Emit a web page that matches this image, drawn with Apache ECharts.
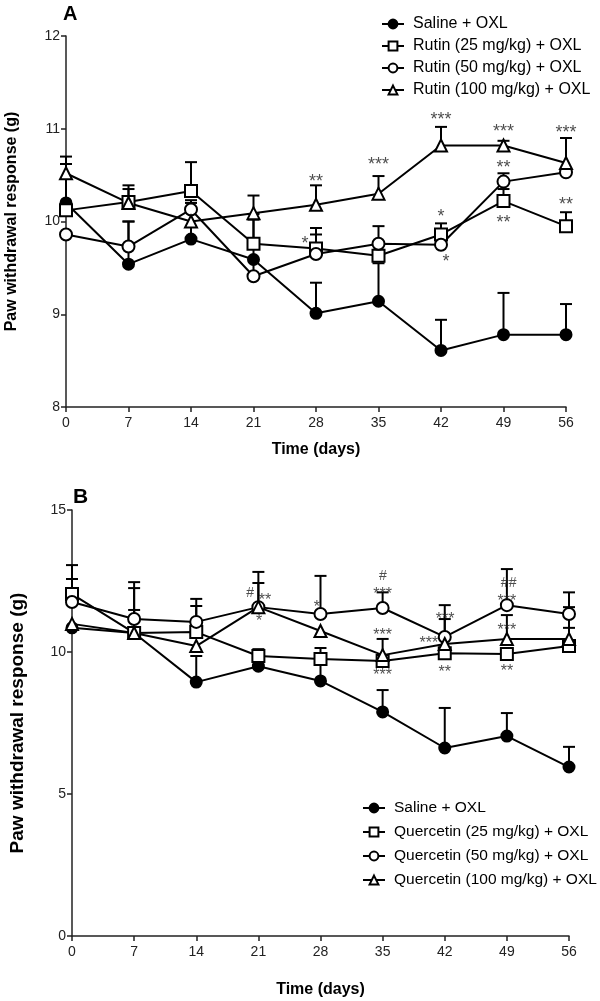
<!DOCTYPE html>
<html><head><meta charset="utf-8">
<script src="https://cdn.jsdelivr.net/npm/echarts@6/dist/echarts.min.js"></script>
<style>html,body{margin:0;padding:0;background:#fff}#c{width:600px;height:1001px}</style>
</head><body><div id="c"></div>
<script>
// ---------- Data ----------
var days = [0, 7, 14, 21, 28, 35, 42, 49, 56];
var xTicks = [0, 7, 14, 21, 28, 35, 42, 49, 56];

// Panel A (Rutin)
var namesA = ['Saline + OXL', 'Rutin (25 mg/kg) + OXL', 'Rutin (50 mg/kg) + OXL', 'Rutin (100 mg/kg) + OXL'];
var salineA   = [10.20, 9.54, 9.81, 9.59, 9.01, 9.14, 8.61, 8.78, 8.78];
var rutin25   = [10.12, 10.21, 10.33, 9.76, 9.71, 9.63, 9.86, 10.22, 9.95];
var rutin50   = [9.86, 9.73, 10.13, 9.41, 9.65, 9.76, 9.75, 10.43, 10.53];
var rutin100  = [10.52, 10.20, 10.00, 10.09, 10.18, 10.30, 10.82, 10.82, 10.63];
var salineAErr  = [10.62, 10.00, 9.95, 9.59, 9.34, 9.55, 8.94, 9.23, 9.11];
var rutin25Err  = [10.12, 10.39, 10.64, 10.02, 9.93, 9.63, 9.98, 10.35, 10.10];
var rutin50Err  = [9.86, 10.00, 10.23, 10.08, 9.86, 9.95, 9.75, 10.52, 10.53];
var rutin100Err = [10.70, 10.35, 10.20, 10.28, 10.39, 10.49, 11.02, 10.87, 10.90];
var annotA = [
  [28, 10.48, '**'], [35, 10.66, '***'], [42, 11.15, '***'], [49, 11.02, '***'], [56, 11.01, '***'],
  [58.35, 10.61, '***'], [49, 10.63, '**'], [56, 10.23, '**'], [42, 10.10, '*'], [49, 10.04, '**'],
  [42.56, 9.62, '*'], [26.77, 9.81, '*']
];

// Panel B (Quercetin)
var namesB = ['Saline + OXL', 'Quercetin (25 mg/kg) + OXL', 'Quercetin (50 mg/kg) + OXL', 'Quercetin (100 mg/kg) + OXL'];
var salineB  = [10.85, 10.67, 8.94, 9.50, 8.98, 7.89, 6.62, 7.04, 5.95];
var querc25  = [12.04, 10.67, 10.70, 9.86, 9.75, 9.68, 9.96, 9.93, 10.21];
var querc50  = [11.76, 11.16, 11.06, 11.58, 11.34, 11.55, 10.53, 11.65, 11.34];
var querc100 = [10.99, 10.67, 10.21, 11.58, 10.74, 9.89, 10.28, 10.46, 10.46];
var salineBErr  = [10.85, 10.67, 9.86, 9.50, 9.70, 8.66, 8.03, 7.85, 6.66];
var querc25Err  = [13.06, 12.25, 11.62, 10.10, 10.14, 9.68, 9.96, 9.93, 11.58];
var querc50Err  = [12.57, 12.46, 11.87, 12.82, 12.68, 12.10, 11.65, 12.92, 12.10];
var querc100Err = [10.99, 11.48, 10.21, 12.43, 10.74, 10.46, 11.16, 11.30, 10.85];
var annotB = [
  [20.06, 12.08, '#'], [21.75, 12.00, '**'], [21.07, 11.23, '*'], [27.6, 11.73, '*'],
  [35.04, 12.68, '#'], [35, 12.18, '***'], [35, 10.74, '***'], [35, 9.33, '***'],
  [42.03, 11.30, '***'], [40.2, 10.46, '***'], [42, 9.44, '**'],
  [49.2, 12.43, '##'], [49, 11.94, '***'], [49, 10.92, '***'], [49, 9.47, '**'],
  [56.3, 12.46, '***'], [57.47, 10.85, '***'], [56.3, 9.65, '***']
];

// ---------- Chart ----------
var FONT = '"Liberation Sans", Arial, sans-serif';
var chart = echarts.init(document.getElementById('c'), null, {renderer: 'canvas'});

function pairs(vals) { return days.map(function (d, i) { return [d, vals[i]]; }); }
function errData(vals, tops) { return days.map(function (d, i) { return [d, vals[i], tops[i]]; }); }

var symbols = ['circle', 'rect', 'circle', 'triangle'];
var fills = ['#000', '#fff', '#fff', '#fff'];

function lineSeries(name, vals, k, gi, size) {
  return {
    type: 'line', name: name, xAxisIndex: gi, yAxisIndex: gi,
    data: pairs(vals), symbol: symbols[k], symbolSize: size, showSymbol: true,
    lineStyle: {color: '#000', width: 2},
    itemStyle: {color: fills[k], borderColor: '#000', borderWidth: 2},
    z: 3, animation: false
  };
}
function errSeries(vals, tops, gi) {
  return {
    type: 'custom', xAxisIndex: gi, yAxisIndex: gi, silent: true, animation: false, z: 2,
    data: errData(vals, tops),
    renderItem: function (params, api) {
      if (api.value(2) <= api.value(1) + 0.001) return null;
      var p0 = api.coord([api.value(0), api.value(1)]);
      var p1 = api.coord([api.value(0), api.value(2)]);
      var st = {stroke: '#000', lineWidth: 2};
      return {type: 'group', children: [
        {type: 'line', shape: {x1: p0[0], y1: p0[1], x2: p1[0], y2: p1[1]}, style: st},
        {type: 'line', shape: {x1: p1[0] - 6, y1: p1[1], x2: p1[0] + 6, y2: p1[1]}, style: st}
      ]};
    }
  };
}
function annotSeries(list, gi, fs) {
  return {
    type: 'scatter', xAxisIndex: gi, yAxisIndex: gi, symbolSize: 0, silent: true, z: 5, animation: false,
    data: list.map(function (a) {
      var star = a[2].indexOf('*') >= 0;
      return {value: [a[0], a[1]], label: {formatter: a[2], offset: [0, star ? Math.round(fs * 0.3) : 0],
        fontSize: star ? fs : 14}};
    }),
    label: {show: true, position: 'inside', fontFamily: FONT, fontSize: fs, color: '#222'}
  };
}

function xAxis(gi, gap) {
  return {
    type: 'value', gridIndex: gi, min: 0, max: 56, interval: 7,
    name: 'Time (days)', nameLocation: 'middle', nameGap: gap,
    nameTextStyle: {fontFamily: FONT, fontSize: 16, fontWeight: 'bold', color: '#000'},
    axisLine: {onZero: false, lineStyle: {color: '#222', width: 1.5}},
    axisTick: {show: true, length: 5, lineStyle: {color: '#222', width: 1.5}},
    axisLabel: {fontFamily: FONT, fontSize: 14, color: '#222', margin: 9,
      formatter: function (v) { return xTicks.indexOf(v) >= 0 ? String(v) : ''; }},
    splitLine: {show: false}
  };
}
function yAxis(gi, min, max, interval, gap, fs) {
  return {
    type: 'value', gridIndex: gi, min: min, max: max, interval: interval,
    name: 'Paw withdrawal response (g)', nameLocation: 'middle', nameGap: gap,
    nameTextStyle: {fontFamily: FONT, fontSize: fs, fontWeight: 'bold', color: '#000'},
    axisLine: {show: true, onZero: false, lineStyle: {color: '#222', width: 1.5}},
    axisTick: {show: true, length: 5, lineStyle: {color: '#222', width: 1.5}},
    axisLabel: {fontFamily: FONT, fontSize: 14, color: '#222', margin: 6},
    splitLine: {show: false}
  };
}

var series = [
  errSeries(salineA, salineAErr, 0), errSeries(rutin25, rutin25Err, 0),
  errSeries(rutin50, rutin50Err, 0), errSeries(rutin100, rutin100Err, 0),
  lineSeries(namesA[0], salineA, 0, 0, 11), lineSeries(namesA[1], rutin25, 1, 0, 12),
  lineSeries(namesA[2], rutin50, 2, 0, 12), lineSeries(namesA[3], rutin100, 3, 0, 12),
  annotSeries(annotA, 0, 18),
  errSeries(salineB, salineBErr, 1), errSeries(querc25, querc25Err, 1),
  errSeries(querc50, querc50Err, 1), errSeries(querc100, querc100Err, 1),
  lineSeries(namesB[0] + ' ', salineB, 0, 1, 11), lineSeries(namesB[1], querc25, 1, 1, 12),
  lineSeries(namesB[2], querc50, 2, 1, 12), lineSeries(namesB[3], querc100, 3, 1, 12),
  annotSeries(annotB, 1, 16)
];

chart.setOption({
  backgroundColor: '#fff',
  animation: false,
  title: [
    {text: 'A', left: 58, top: -1, textStyle: {fontFamily: FONT, fontSize: 20, fontWeight: 'bold', color: '#000'}},
    {text: 'B', left: 68, top: 482, textStyle: {fontFamily: FONT, fontSize: 21, fontWeight: 'bold', color: '#000'}}
  ],
  grid: [
    {left: 66, right: 34, top: 36, height: 371, outerBoundsMode: 'none', containLabel: false},
    {left: 72, right: 31, top: 510, height: 426, outerBoundsMode: 'none', containLabel: false}
  ],
  xAxis: [xAxis(0, 35), xAxis(1, 46)],
  yAxis: [yAxis(0, 8, 12, 1, 46, 16), yAxis(1, 0, 15, 5, 45, 19)],
  legend: [
    {data: namesA, orient: 'vertical', left: 376, top: 11, itemWidth: 22, itemHeight: 11, itemGap: 6,
      textStyle: {fontFamily: FONT, fontSize: 16, color: '#000', padding: [0, 0, 0, 4]}, selectedMode: false},
    {data: namesB.map(function (n, i) { return i === 0 ? n + ' ' : n; }), orient: 'vertical', left: 357, top: 795,
      itemWidth: 22, itemHeight: 11, itemGap: 8,
      textStyle: {fontFamily: FONT, fontSize: 15.5, color: '#000', padding: [0, 0, 0, 4]}, selectedMode: false}
  ],
  series: series
});
</script></body></html>
